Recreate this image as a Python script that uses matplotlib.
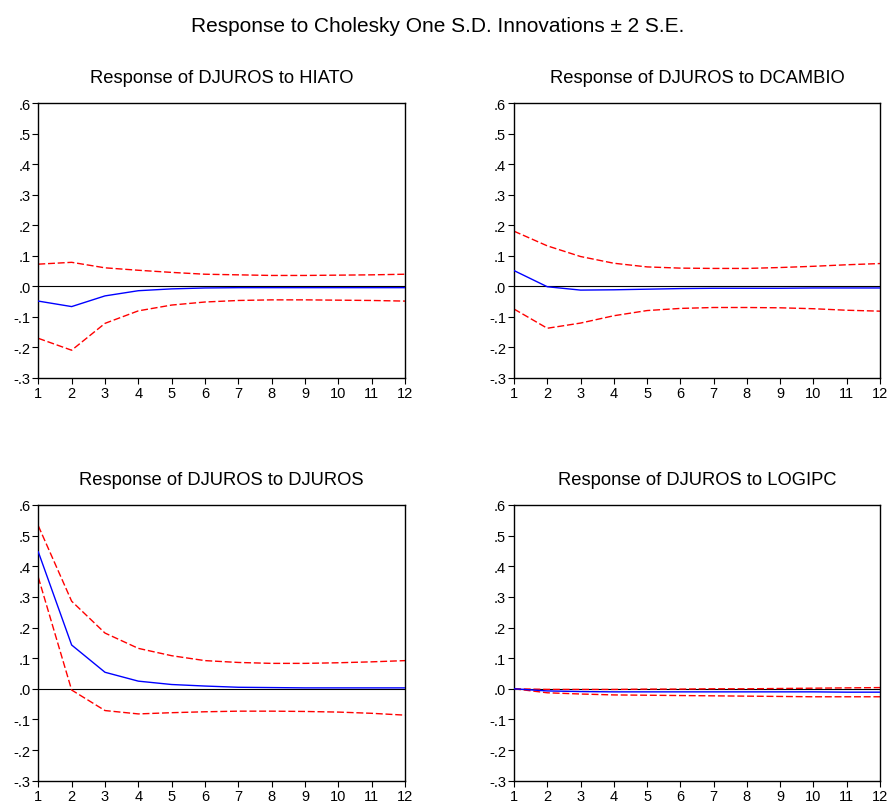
import matplotlib
matplotlib.use("Agg")
import matplotlib.pyplot as plt
from matplotlib.ticker import FuncFormatter

plt.rcParams['font.family'] = ['Liberation Sans', 'DejaVu Sans']

periods = list(range(1, 13))
main_title = "Response to Cholesky One S.D. Innovations \u00b1 2 S.E."
titles = ["Response of DJUROS to HIATO", "Response of DJUROS to DCAMBIO",
          "Response of DJUROS to DJUROS", "Response of DJUROS to LOGIPC"]

hiato_resp = [-0.049, -0.067, -0.032, -0.015, -0.009, -0.006, -0.005, -0.005, -0.005, -0.005, -0.005, -0.005]
hiato_up = [0.072, 0.078, 0.060, 0.052, 0.045, 0.039, 0.037, 0.035, 0.035, 0.036, 0.037, 0.039]
hiato_lo = [-0.171, -0.210, -0.122, -0.081, -0.062, -0.052, -0.047, -0.045, -0.045, -0.046, -0.047, -0.049]

dcambio_resp = [0.051, -0.002, -0.013, -0.012, -0.010, -0.008, -0.007, -0.007, -0.007, -0.006, -0.006, -0.006]
dcambio_up = [0.180, 0.132, 0.097, 0.075, 0.063, 0.059, 0.058, 0.058, 0.061, 0.065, 0.070, 0.074]
dcambio_lo = [-0.075, -0.138, -0.121, -0.097, -0.080, -0.073, -0.070, -0.070, -0.071, -0.074, -0.079, -0.082]

djuros_resp = [0.447, 0.143, 0.054, 0.025, 0.014, 0.009, 0.005, 0.004, 0.003, 0.003, 0.003, 0.003]
djuros_up = [0.532, 0.286, 0.182, 0.132, 0.108, 0.092, 0.086, 0.083, 0.083, 0.085, 0.088, 0.092]
djuros_lo = [0.364, -0.004, -0.071, -0.082, -0.078, -0.075, -0.073, -0.073, -0.074, -0.076, -0.080, -0.086]

logipc_resp = [0.0, -0.007, -0.009, -0.010, -0.010, -0.010, -0.010, -0.010, -0.010, -0.010, -0.011, -0.011]
logipc_up = [0.0, -0.002, -0.002, -0.002, -0.001, -0.001, 0.000, 0.000, 0.001, 0.002, 0.003, 0.004]
logipc_lo = [0.0, -0.013, -0.017, -0.020, -0.021, -0.022, -0.023, -0.024, -0.025, -0.026, -0.026, -0.026]

series = [(hiato_resp, hiato_up, hiato_lo), (dcambio_resp, dcambio_up, dcambio_lo),
          (djuros_resp, djuros_up, djuros_lo), (logipc_resp, logipc_up, logipc_lo)]
yticks = [-0.3, -0.2, -0.1, 0.0, 0.1, 0.2, 0.3, 0.4, 0.5, 0.6]

W, H = 890, 803
fig = plt.figure(figsize=(W / 100, H / 100), dpi=100)

boxes = [(38.3, 104, 405, 378.7), (514, 104, 880, 378.7),
         (38.3, 506, 405, 781.7), (514, 506, 880, 781.7)]

def fmt(v, pos):
    s = "%.1f" % v
    if s.startswith("-0"):
        s = "-" + s[2:]
    elif s.startswith("0"):
        s = s[1:]
    return s

for (x0, y0, x1, y1), title, (r, u, l) in zip(boxes, titles, series):
    ax = fig.add_axes([x0 / W, 1 - y1 / H, (x1 - x0) / W, (y1 - y0) / H])
    ax.axhline(0, color='black', lw=0.8, zorder=1)
    ax.plot(periods, r, color='#0000ff', lw=1.0, zorder=3)
    ax.plot(periods, u, color='#ff0000', lw=1.0, ls=(0, (5, 2)), zorder=2)
    ax.plot(periods, l, color='#ff0000', lw=1.0, ls=(0, (5, 2)), zorder=2)
    ax.set_xlim(1, 12)
    ax.set_ylim(-0.3, 0.6)
    ax.set_xticks(periods)
    ax.set_yticks(yticks)
    ax.yaxis.set_major_formatter(FuncFormatter(fmt))
    ax.tick_params(direction='out', length=4.5, width=0.8, labelsize=10.5, pad=1.2)
    for sp in ax.spines.values():
        sp.set_linewidth(1.0)
    ax.set_title(title, fontsize=13.2, pad=15)

fig.text(437.5 / W, 1 - 26 / H, main_title, ha='center', va='center', fontsize=15)
fig.savefig("out.png", dpi=100)
